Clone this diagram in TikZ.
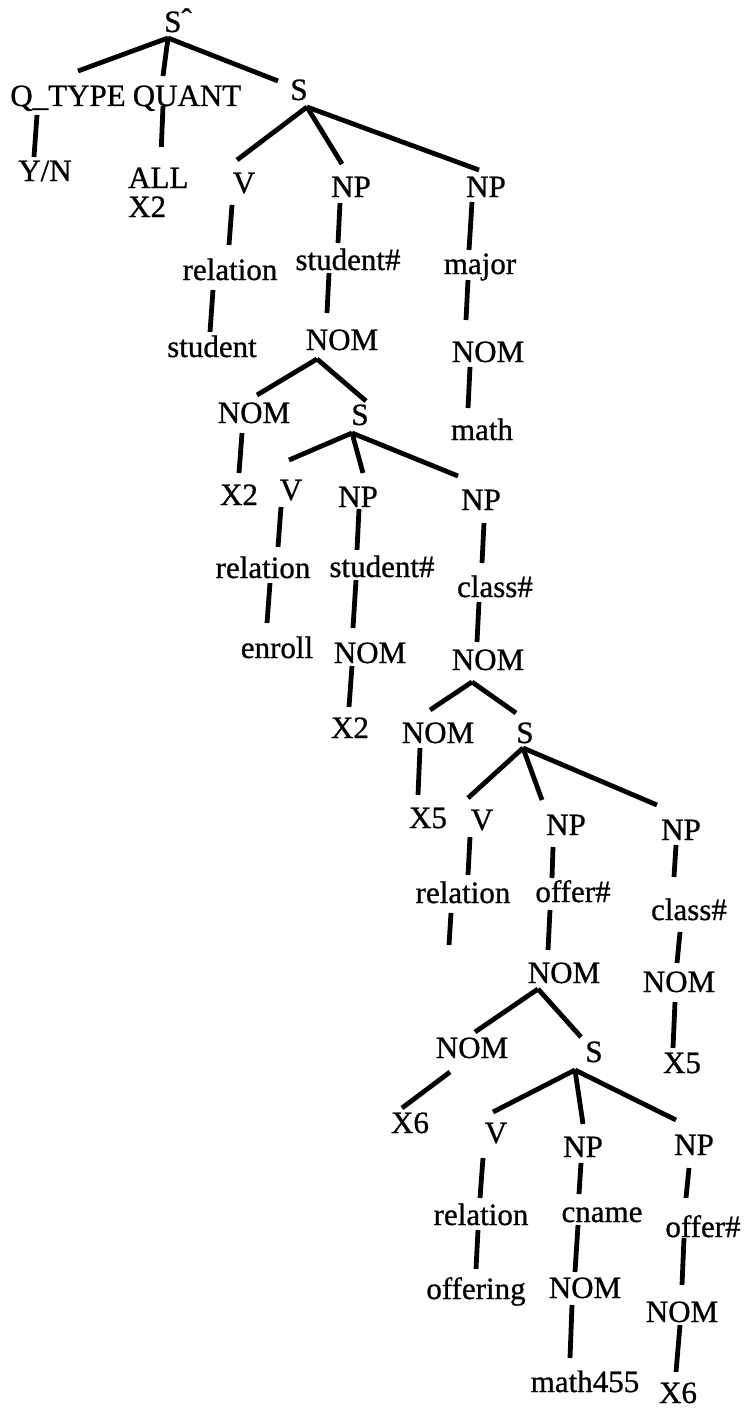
\documentclass[tikz,border=0pt]{standalone}
\usepackage{fontspec}
\setmainfont{Liberation Serif}[FakeBold=0.8]
\usetikzlibrary{calc}
% tree labels and branch strokes
\tikzset{
  tx/.style={font=\fontsize{31}{31}\selectfont, inner sep=0pt, anchor=base},
  br/.style={line width=4.8pt}
}
% branch between two named nodes, each end offset from the node's base point
\newcommand\lnk[6]{\draw[br] ($(#1.base)+(#2,#3)$) -- ($(#4.base)+(#5,#6)$);}
\begin{document}
\begin{tikzpicture}[x=1pt,y=-1pt]
\fill[white] (0,0) rectangle (745,1410);
\useasboundingbox (0,0) rectangle (745,1410);

% --- top of the tree
\node[tx] (n0) at (178,32) {S\raisebox{2pt}{\symbol{"02C6}}};
\node[tx] (qtype) at (68,106) {Q\_TYPE};
\node[tx] (quant) at (187,106) {QUANT};
\node[tx] (s1) at (299,100) {S};
\node[tx] (yn) at (45,181) {Y/N};
\node[tx,anchor=base west] (all) at (128,188) {ALL};
\node[tx,anchor=base west] (allx) at (128,217) {X2};

% --- first sentence
\node[tx] (v1) at (244,193) {V};
\node[tx] (np1) at (351,197) {NP};
\node[tx] (np2) at (486,197) {NP};
\node[tx] (rel1) at (230,280) {relation};
\node[tx] (stu1) at (212,357) {student};
\node[tx] (stuh1) at (348,270) {student\#};
\node[tx] (nom1) at (342,350) {NOM};
\node[tx] (major) at (480,274) {major};
\node[tx] (nom2) at (488,362) {NOM};
\node[tx] (math) at (482,440) {math};

% --- relative clause: enroll
\node[tx] (nom3) at (254,423) {NOM};
\node[tx] (s2) at (360,425) {S};
\node[tx] (x2a) at (239,505) {X2};
\node[tx] (v2) at (291,500) {V};
\node[tx] (np3) at (358,507) {NP};
\node[tx] (np4) at (481,510) {NP};
\node[tx] (rel2) at (263,578) {relation};
\node[tx] (enroll) at (277,658) {enroll};
\node[tx] (stuh2) at (382,577) {student\#};
\node[tx] (nom4) at (370,663) {NOM};
\node[tx] (x2b) at (350,738) {X2};
\node[tx] (class1) at (495,597) {class\#};
\node[tx] (nom5) at (488,670) {NOM};

% --- relative clause: offer
\node[tx] (nom6) at (438,743) {NOM};
\node[tx] (s3) at (525,743) {S};
\node[tx] (x5a) at (428,828) {X5};
\node[tx] (v3) at (482,830) {V};
\node[tx] (np5) at (566,835) {NP};
\node[tx] (np6) at (681,840) {NP};
\node[tx] (rel3) at (463,903) {relation};
\node[tx] (offh1) at (573,902) {offer\#};
\node[tx] (nom7) at (564,983) {NOM};
\node[tx] (class2) at (689,920) {class\#};
\node[tx] (nom8) at (679,992) {NOM};
\node[tx] (x5b) at (682,1073) {X5};
\coordinate (rel3end) at ($(rel3.base)+(-14,42)$);

% --- relative clause: offering
\node[tx] (nom9) at (472,1058) {NOM};
\node[tx] (s4) at (594,1062) {S};
\node[tx] (x6a) at (410,1133) {X6};
\node[tx] (v4) at (496,1143) {V};
\node[tx] (np7) at (583,1157) {NP};
\node[tx] (np8) at (694,1155) {NP};
\node[tx] (rel4) at (481,1225) {relation};
\node[tx] (offering) at (476,1299) {offering};
\node[tx] (cname) at (602,1222) {cname};
\node[tx] (nom10) at (585,1298) {NOM};
\node[tx] (math455) at (585,1392) {math455};
\node[tx] (offh2) at (703,1237) {offer\#};
\node[tx] (nom11) at (682,1322) {NOM};
\node[tx] (x6b) at (678,1403) {X6};

% --- branches
\lnk{n0}{-10}{6}{qtype}{10}{-35}
\lnk{n0}{-10}{6}{quant}{-24}{-30}
\lnk{n0}{-10}{6}{s1}{-21}{-19}
\lnk{qtype}{-31}{9}{yn}{-11}{-24}
\lnk{quant}{-24}{0}{all}{3}{-41}
\lnk{s1}{8}{7}{v1}{-7}{-33}
\lnk{s1}{8}{7}{np1}{-9}{-33}
\lnk{s1}{8}{7}{np2}{-7}{-27}
\lnk{v1}{-12}{12}{rel1}{-1}{-35}
\lnk{rel1}{-17}{10}{stu1}{-2}{-25}
\lnk{np1}{-11}{6}{stuh1}{-10}{-27}
\lnk{stuh1}{-19}{3}{nom1}{-15}{-37}
\lnk{nom1}{-25}{9}{nom3}{3}{-28}
\lnk{nom1}{-25}{9}{s2}{6}{-24}
\lnk{nom3}{-12}{10}{x2a}{0}{-32}
\lnk{s2}{-8}{8}{v2}{-2}{-40}
\lnk{s2}{-8}{8}{np3}{5}{-34}
\lnk{s2}{-8}{8}{np4}{-23}{-34}
\lnk{np2}{-14}{5}{major}{-11}{-24}
\lnk{major}{-12}{6}{nom2}{-22}{-42}
\lnk{nom2}{-18}{5}{math}{-14}{-32}
\lnk{v2}{-10}{7}{rel2}{15}{-31}
\lnk{rel2}{7}{5}{enroll}{-10}{-35}
\lnk{np3}{1}{2}{stuh2}{-25}{-27}
\lnk{stuh2}{-26}{3}{nom4}{-17}{-35}
\lnk{nom4}{-18}{3}{x2b}{-1}{-31}
\lnk{np4}{3}{13}{class1}{-13}{-34}
\lnk{class1}{-16}{5}{nom5}{-11}{-28}
\lnk{nom5}{-16}{12}{nom6}{-8}{-33}
\lnk{nom5}{-16}{12}{s3}{-9}{-30}
\lnk{nom6}{-18}{5}{x5a}{-10}{-33}
\lnk{s3}{-2}{5}{v3}{-14}{-32}
\lnk{s3}{-2}{5}{np5}{-24}{-35}
\lnk{s3}{-2}{5}{np6}{-24}{-35}
\lnk{v3}{-12}{7}{rel3}{5}{-28}
\draw[br] ($(rel3.base)+(-12,10)$) -- (rel3end);
\lnk{np5}{-13}{12}{offh1}{-21}{-24}
\lnk{offh1}{-23}{8}{nom7}{-16}{-33}
\lnk{nom7}{-26}{6}{nom9}{3}{-26}
\lnk{nom7}{-26}{6}{s4}{-13}{-25}
\lnk{np6}{-5}{5}{class2}{-15}{-43}
\lnk{class2}{-9}{12}{nom8}{-2}{-29}
\lnk{nom8}{-4}{10}{x5b}{-9}{-25}
\lnk{nom9}{-22}{14}{x6a}{-8}{-25}
\lnk{s4}{-19}{8}{v4}{-3}{-31}
\lnk{s4}{-19}{8}{np7}{0}{-33}
\lnk{s4}{-19}{8}{np8}{-18}{-35}
\lnk{v4}{-13}{15}{rel4}{-1}{-27}
\lnk{rel4}{-3}{5}{offering}{0}{-30}
\lnk{np7}{-2}{6}{cname}{-23}{-28}
\lnk{cname}{-24}{3}{nom10}{-10}{-26}
\lnk{nom10}{-13}{7}{math455}{-15}{-34}
\lnk{np8}{-5}{13}{offh2}{-17}{-39}
\lnk{offh2}{-19}{1}{nom11}{0}{-37}
\lnk{nom11}{-2}{3}{x6b}{-2}{-31}
\end{tikzpicture}
\end{document}
